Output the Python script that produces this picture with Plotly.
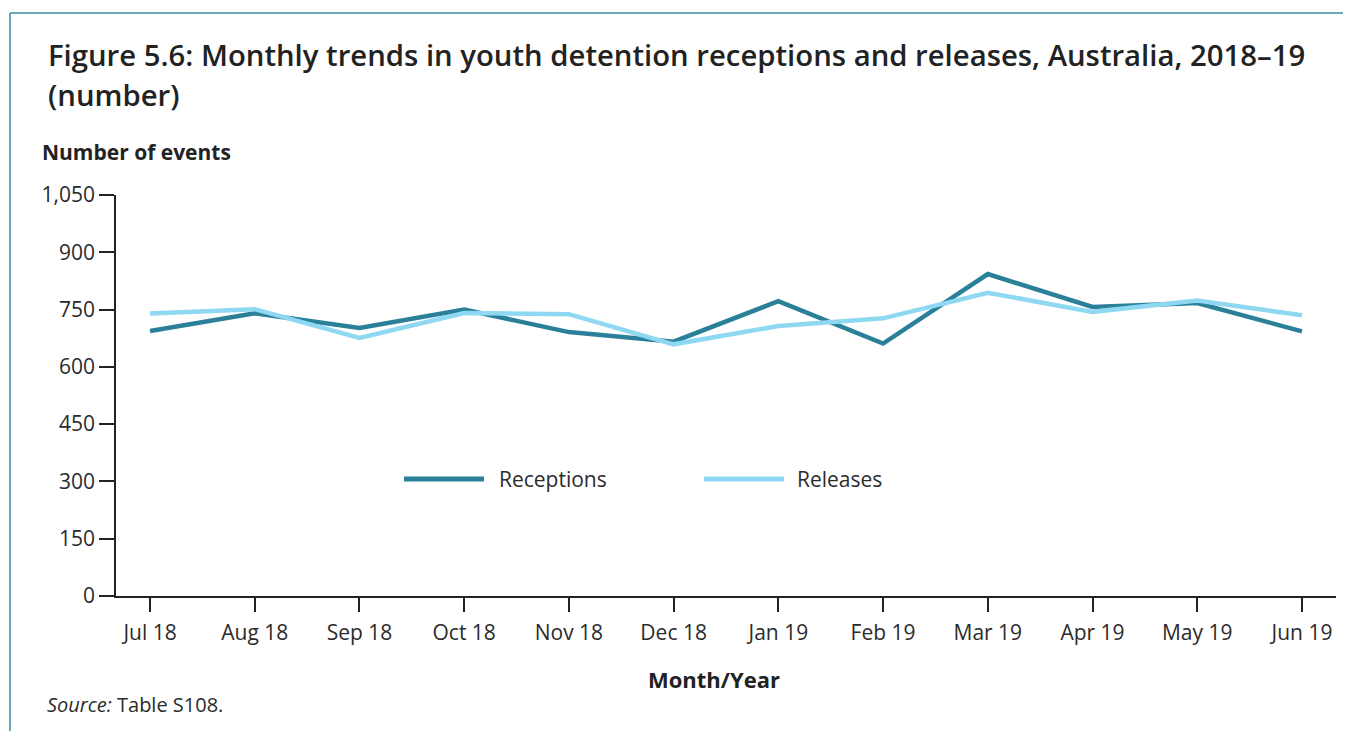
import plotly.graph_objects as go

months = ["Jul 18", "Aug 18", "Sep 18", "Oct 18", "Nov 18", "Dec 18",
          "Jan 19", "Feb 19", "Mar 19", "Apr 19", "May 19", "Jun 19"]
receptions = [694, 740, 702, 750, 691, 666, 772, 661, 843, 757, 767, 693]
releases = [740, 751, 676, 741, 738, 659, 707, 727, 794, 744, 774, 735]
y_ticks = [0, 150, 300, 450, 600, 750, 900, 1050]
y_tick_labels = ["0", "150", "300", "450", "600", "750", "900", "1,050"]

DARK = "#2a8099"
LIGHT = "#8fd8f2"
TXT = "#2b2b2b"
FONT = "Open Sans"

# page body has an 8px default margin; work in reference (window) pixels
OFF = 8
WIN_W, WIN_H = 1351, 731
W, H = WIN_W - OFF, WIN_H - OFF
PL, PR, PT, PB = 116, 1336, 195, 596   # plot area in window pixels
L = PL - OFF
T = PT - OFF
R = W - (PR - OFF)
B = H - (PB - OFF)
PW = PR - PL
PH = PB - PT


def px(x):
    return (x - PL) / PW


def py(y):
    return (PB - y) / PH


fig = go.Figure()
fig.add_trace(go.Scatter(x=list(range(len(months))), y=receptions, mode="lines",
                         name="Receptions", line=dict(color=DARK, width=4.5),
                         showlegend=False))
fig.add_trace(go.Scatter(x=list(range(len(months))), y=releases, mode="lines",
                         name="Releases", line=dict(color=LIGHT, width=4.5),
                         showlegend=False))

fig.update_layout(
    width=W, height=H,
    margin=dict(l=L, r=R, t=T, b=B),
    paper_bgcolor="white", plot_bgcolor="white",
    font=dict(family=FONT, color=TXT, size=21),
    xaxis=dict(
        tickmode="array", tickvals=list(range(len(months))), ticktext=months,
        range=[-0.325, 11.325], showgrid=False, zeroline=False,
        showline=True, linecolor="#222", linewidth=1.5,
        ticks="outside", ticklen=14, tickwidth=1.5, tickcolor="#222",
        ticklabelstandoff=3,
        tickfont=dict(size=21, color=TXT, family=FONT),
    ),
    yaxis=dict(
        tickmode="array", tickvals=y_ticks, ticktext=y_tick_labels,
        range=[0, 1050], showgrid=False, zeroline=False,
        showline=True, linecolor="#222", linewidth=1.5,
        ticks="outside", ticklen=15, tickwidth=1.5, tickcolor="#222",
        tickfont=dict(size=21, color=TXT, family=FONT),
    ),
)

shapes = [
    # frame border (left and top)
    dict(type="line", xref="paper", yref="paper", x0=px(10), x1=px(10),
         y0=py(13), y1=py(WIN_H + 5), line=dict(color="#3a8aa3", width=1.5)),
    dict(type="line", xref="paper", yref="paper", x0=px(10), x1=px(WIN_W + 5),
         y0=py(13), y1=py(13), line=dict(color="#3a8aa3", width=1.5)),
    # legend swatches
    dict(type="line", xref="paper", yref="paper", x0=px(404), x1=px(484),
         y0=py(479), y1=py(479), line=dict(color=DARK, width=5)),
    dict(type="line", xref="paper", yref="paper", x0=px(704), x1=px(784),
         y0=py(479), y1=py(479), line=dict(color=LIGHT, width=5)),
]
fig.update_layout(shapes=shapes)

ann = [
    dict(text="Figure 5.6: Monthly trends in youth detention receptions and releases, Australia, 2018–19",
         x=px(46), y=py(55), xanchor="left", yanchor="middle",
         font=dict(size=29.3, color="#222", family=FONT, weight=600)),
    dict(text="(number)", x=px(46), y=py(95), xanchor="left", yanchor="middle",
         font=dict(size=29.3, color="#222", family=FONT, weight=600)),
    dict(text="<b>Number of events</b>", x=px(40), y=py(152), xanchor="left", yanchor="middle",
         font=dict(size=21, color="#222", family=FONT)),
    dict(text="<b>Month/Year</b>", x=px(714), y=py(679), xanchor="center", yanchor="middle",
         font=dict(size=22, color="#222", family=FONT)),
    dict(text="<i>Source:</i> Table S108.", x=px(45), y=py(704), xanchor="left", yanchor="middle",
         font=dict(size=20, color=TXT, family=FONT)),
    dict(text="Receptions", x=px(497), y=py(479), xanchor="left", yanchor="middle",
         font=dict(size=21, color=TXT, family=FONT)),
    dict(text="Releases", x=px(795), y=py(479), xanchor="left", yanchor="middle",
         font=dict(size=21, color=TXT, family=FONT)),
]
for a in ann:
    a.update(xref="paper", yref="paper", showarrow=False)
fig.update_layout(annotations=ann)

fig.write_html("out.html")
